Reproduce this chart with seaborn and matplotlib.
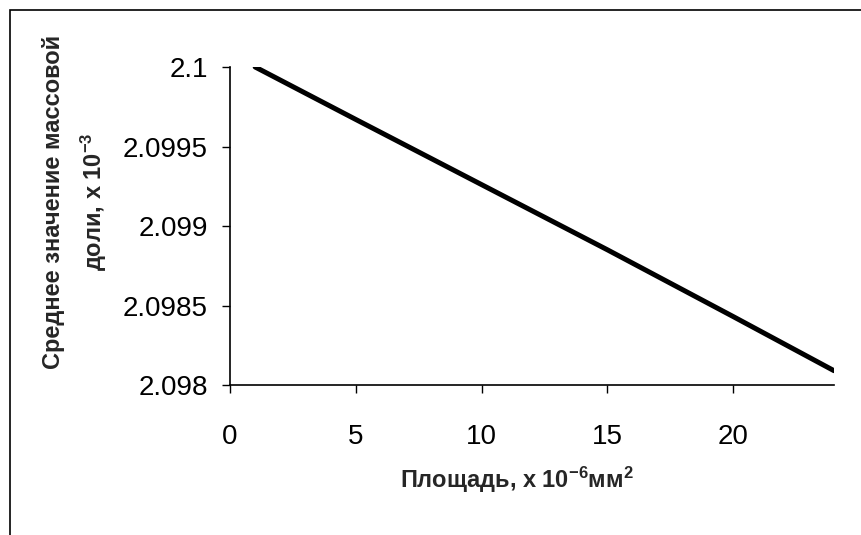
import matplotlib
matplotlib.use("Agg")
import matplotlib.pyplot as plt
import seaborn as sns
from matplotlib.patches import Rectangle

# --- Data ---
area = [1, 5, 10, 15, 20, 24]
mass_fraction = [2.1, 2.09967, 2.09926, 2.09885, 2.09843, 2.09809]

x_ticks = [0, 5, 10, 15, 20]
y_ticks = [2.098, 2.0985, 2.099, 2.0995, 2.1]
y_tick_labels = ["2.098", "2.0985", "2.099", "2.0995", "2.1"]

x_label = "Площадь, x 10$^{-6}$мм$^{2}$"
y_label = "Среднее значение массовой\nдоли, x 10$^{-3}$"

sns.set_style("ticks")
plt.rcParams["font.family"] = ["Liberation Sans", "DejaVu Sans"]
plt.rcParams["mathtext.fontset"] = "custom"
plt.rcParams["mathtext.rm"] = "Liberation Sans"
plt.rcParams["mathtext.bf"] = "Liberation Sans:bold"
plt.rcParams["mathtext.default"] = "bf"

fig = plt.figure(figsize=(8.62, 5.35), dpi=100)
ax = fig.add_axes([230 / 862, 1 - 385 / 535, 604 / 862, 318 / 535])

# scanned page frame (left and top edges visible)
fig.patches.append(Rectangle((10 / 862, -0.1), 1.1, 1.1 - 10 / 535,
                             transform=fig.transFigure, fill=False,
                             edgecolor="black", linewidth=1.2))

sns.lineplot(x=area, y=mass_fraction, color="black", linewidth=3.6, ax=ax)

ax.set_xlim(0, 24)
ax.set_ylim(2.098, 2.1)
ax.set_xticks(x_ticks)
ax.set_xticklabels([str(t) for t in x_ticks])
ax.set_yticks(y_ticks)
ax.set_yticklabels(y_tick_labels)
ax.tick_params(axis="both", direction="out", length=6, width=1,
               labelsize=20, colors="black")
ax.tick_params(axis="y", pad=10)
ax.tick_params(axis="x", pad=22)

sns.despine(ax=ax)
for s in ["left", "bottom"]:
    ax.spines[s].set_linewidth(1.2)
    ax.spines[s].set_color("black")

ax.set_xlabel(x_label, fontsize=17, fontweight="bold")
ax.set_ylabel(y_label, fontsize=17, fontweight="bold", linespacing=1.6)
ax.xaxis.set_label_coords(0.475, -0.25)
ax.yaxis.set_label_coords(-0.2, 0.575)

fig.savefig("out.png", dpi=100)
